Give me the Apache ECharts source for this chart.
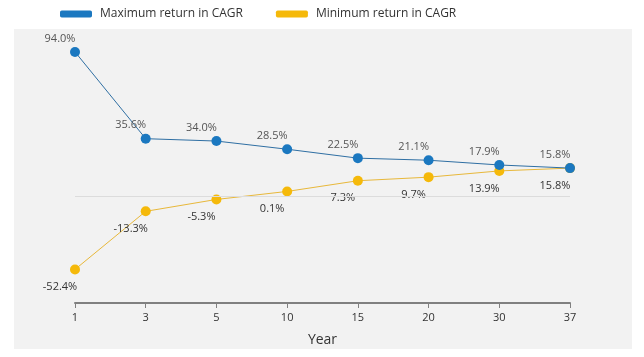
<!DOCTYPE html>
<html><head><meta charset="utf-8">
<script src="https://cdn.jsdelivr.net/npm/echarts@6/dist/echarts.min.js"></script>
<style>html,body{margin:0;padding:0;background:#fff}#c{width:644px;height:357px}</style>
</head><body><div id="c"></div>
<script>
const years = ['1','3','5','10','15','20','30','37'];
const maxReturn = [94.0, 35.6, 34.0, 28.5, 22.5, 21.1, 17.9, 15.8];
const minReturn = [-52.4, -13.3, -5.3, 0.1, 7.3, 9.7, 13.9, 15.8];
const refLine = -3;

const chart = echarts.init(document.getElementById('c'));
const font = 'Open Sans';
chart.setOption({
  animation: false,
  textStyle: { fontFamily: font },
  graphic: [{ type: 'rect', shape: { x: 14, y: 29, width: 618, height: 320 }, style: { fill: '#f2f2f2' }, z: -10 }],
  legend: {
    top: 3, left: 55, itemWidth: 32, itemHeight: 7, itemGap: 33,
    icon: 'roundRect',
    textStyle: { fontFamily: font, fontSize: 12, color: '#333', padding: [0, 0, 0, 3] },
    data: ['Maximum return in CAGR', 'Minimum return in CAGR']
  },
  grid: { left: 75, right: 74, top: 43, bottom: 54 },
  xAxis: {
    type: 'category', data: years, boundaryGap: false,
    axisLine: { onZero: false, lineStyle: { color: '#808080', width: 2 } },
    axisTick: { alignWithLabel: true, length: 5, lineStyle: { color: '#808080' } },
    axisLabel: { color: '#333', fontSize: 11, margin: 9 },
    name: 'Year', nameLocation: 'middle', nameGap: 30,
    nameTextStyle: { color: '#333', fontSize: 14 }
  },
  yAxis: { type: 'value', min: -75, max: 100, show: false, splitLine: { show: false } },
  series: [
    {
      name: 'Maximum return in CAGR', type: 'line', data: maxReturn,
      symbol: 'circle', symbolSize: 10,
      itemStyle: { color: '#1b78c0' },
      lineStyle: { color: '#2f6fa3', width: 1 },
      label: { show: true, position: 'top', offset: [-15, 2], color: '#555', fontSize: 11,
        formatter: p => p.value.toFixed(1) + '%' },
      markLine: { silent: true, symbol: 'none', label: { show: false },
        lineStyle: { color: '#dcdcdc', type: 'solid', width: 1 },
        data: [{ yAxis: refLine }] },
      z: 3
    },
    {
      name: 'Minimum return in CAGR', type: 'line', data: minReturn,
      symbol: 'circle', symbolSize: 10,
      itemStyle: { color: '#f5b90a' },
      lineStyle: { color: '#e8b83a', width: 1 },
      label: { show: true, position: 'bottom', offset: [-15, 2], color: '#333', fontSize: 11,
        formatter: p => p.value.toFixed(1) + '%' },
      z: 2
    }
  ]
});
</script></body></html>
